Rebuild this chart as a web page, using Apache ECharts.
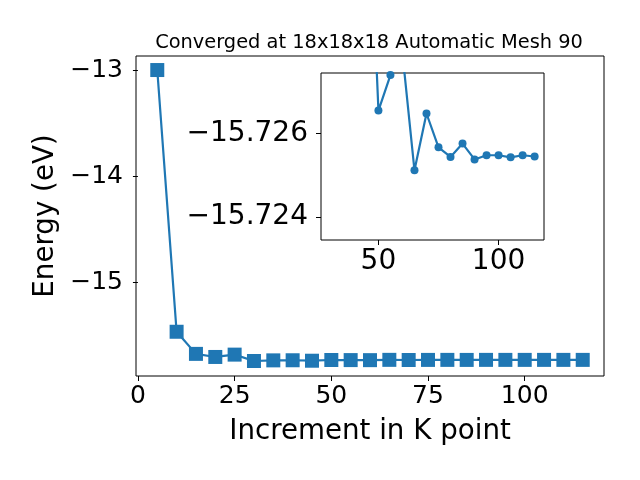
<!DOCTYPE html>
<html>
<head>
<meta charset="utf-8">
<script src="https://cdn.jsdelivr.net/npm/echarts@6/dist/echarts.min.js"></script>
<style>
  html, body { margin: 0; padding: 0; background: #fff; }
  #chart { width: 640px; height: 480px; }
</style>
</head>
<body>
<div id="chart"></div>
<script>
// K-point increments and total energies (eV)
var kpoints = [5, 10, 15, 20, 25, 30, 35, 40, 45, 50, 55, 60, 65, 70, 75, 80, 85, 90, 95, 100, 105, 110, 115];
var energy = [-13.0, -15.461, -15.669, -15.698, -15.676, -15.736, -15.730, -15.729, -15.7333,
  -15.72655, -15.7274, -15.72792, -15.72512, -15.72648, -15.72567, -15.72544, -15.72576,
  -15.72538, -15.72548, -15.72548, -15.72543, -15.72548, -15.72545];
var insetStart = 5; // the zoomed view starts at 30 k-points
var mainXTicks = [0, 25, 50, 75, 100];
var mainYTicks = [-15, -14, -13];
var insetXTicks = [50, 100];
var insetYTicks = [-15.726, -15.724];

var pts = kpoints.map(function (k, i) { return [k, energy[i]]; });
var insetPts = pts.slice(insetStart);
var blue = '#1f77b4';
function minus(s) { return String(s).replace('-', '\u2212'); }

var myChart = echarts.init(document.getElementById('chart'), null, { renderer: 'canvas' });
var option = {
  animation: false,
  backgroundColor: '#fff',
  textStyle: { fontFamily: 'DejaVu Sans', color: '#000' },
  title: {
    text: 'Converged at 18x18x18 Automatic Mesh 90',
    left: 364,
    top: 28,
    textAlign: 'center',
    textStyle: { fontSize: 19.4, fontWeight: 'normal', color: '#000', fontFamily: 'DejaVu Sans' }
  },
  grid: [
    { left: 136, top: 56, width: 468, height: 320, show: true, borderColor: '#000', borderWidth: 1, containLabel: false },
    { left: 321, top: 73, width: 223, height: 167, show: true, borderColor: '#000', borderWidth: 1, backgroundColor: '#fff', containLabel: false, z: 5 }
  ],
  xAxis: [
    {
      gridIndex: 0, type: 'value', min: -0.5, max: 120.5,
      name: 'Increment in K point', nameLocation: 'middle', nameGap: 42,
      nameTextStyle: { fontSize: 27.7, color: '#000' },
      axisLine: { show: false },
      axisTick: { show: true, length: 5, inside: false, customValues: mainXTicks, lineStyle: { color: '#000' } },
      axisLabel: { fontSize: 25, color: '#000', margin: 8, customValues: mainXTicks },
      splitLine: { show: false }
    },
    {
      gridIndex: 1, type: 'value', min: 26.1, max: 118.9,
      axisLine: { show: false },
      axisTick: { show: true, length: 5, customValues: insetXTicks, lineStyle: { color: '#000' } },
      axisLabel: { fontSize: 28, color: '#000', margin: 8, customValues: insetXTicks },
      splitLine: { show: false }
    }
  ],
  yAxis: [
    {
      gridIndex: 0, type: 'value', min: -15.877, max: -12.868,
      name: 'Energy (eV)', nameLocation: 'middle', nameGap: 76, nameRotate: 90,
      nameTextStyle: { fontSize: 27.7, color: '#000' },
      axisLine: { show: false },
      axisTick: { show: true, length: 5, customValues: mainYTicks, lineStyle: { color: '#000' } },
      axisLabel: { fontSize: 25, color: '#000', margin: 13, customValues: mainYTicks,
        formatter: function (v) { return minus(v); } },
      splitLine: { show: false }
    },
    {
      gridIndex: 1, type: 'value', min: -15.72745, max: -15.72345, inverse: true,
      axisLine: { show: false },
      axisTick: { show: true, length: 5, customValues: insetYTicks, lineStyle: { color: '#000' } },
      axisLabel: { fontSize: 28, color: '#000', margin: 13, customValues: insetYTicks,
        formatter: function (v) { return minus(v.toFixed(3)); } },
      splitLine: { show: false }
    }
  ],
  series: [
    {
      type: 'line', xAxisIndex: 0, yAxisIndex: 0, data: pts,
      symbol: 'rect', symbolSize: 14, showAllSymbol: true,
      itemStyle: { color: blue },
      lineStyle: { color: blue, width: 2.2 },
      z: 2
    },
    {
      type: 'line', xAxisIndex: 1, yAxisIndex: 1, data: insetPts, clip: true,
      symbol: 'circle', symbolSize: 8, showAllSymbol: true,
      itemStyle: { color: blue },
      lineStyle: { color: blue, width: 2.2 },
      z: 6
    }
  ]
};
myChart.setOption(option);
window.addEventListener('resize', function () {
  myChart.resize();
});
</script>
</body>
</html>
